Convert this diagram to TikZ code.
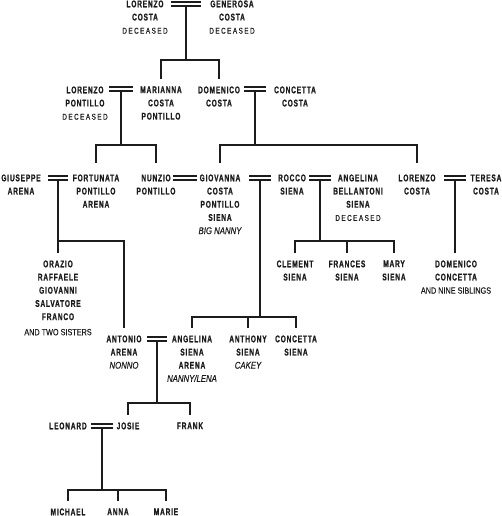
\documentclass[tikz,border=0pt]{standalone}
\usepackage{fontspec}
\usetikzlibrary{positioning}
\newfontfamily\namefont[FakeStretch=0.68,LetterSpace=8,FakeBold=0.8]{Liberation Sans}
\newfontfamily\notefont[FakeStretch=0.8,FakeBold=0.3]{Liberation Sans}
\newfontfamily\decfont[FakeStretch=0.75,LetterSpace=18,FakeBold=0.5]{Liberation Sans}
\definecolor{ink}{RGB}{28,28,28}
\newcommand{\dectxt}{{\decfont\mdseries\fontsize{6.3}{9.9}\selectfont DECEASED}}
\newcommand{\nicktxt}[1]{{\notefont\mdseries\itshape #1}}
\newcommand{\extratxt}[1]{{\notefont\mdseries\fontsize{6.8}{9.9}\selectfont #1}}

\begin{document}
\begin{tikzpicture}[
      x=0.75pt, y=-0.75pt,
      font=\namefont\bfseries\fontsize{7.3}{9.9}\selectfont,
      person/.style={anchor=north, align=center, inner sep=0pt, outer ysep=5.6pt, text=ink},
      low/.style={outer ysep=8.6pt},
      line/.style={draw=ink, line width=1.5pt},
      wed/.style={minimum width=16.5pt, minimum height=3.8pt, inner sep=0pt, outer sep=0pt,
                  path picture={
                    \fill[ink] (path picture bounding box.north west) rectangle ([yshift=-1.4pt]path picture bounding box.north east);
                    \fill[ink] ([yshift=1.4pt]path picture bounding box.south west) rectangle (path picture bounding box.south east);}},
    ]
    \useasboundingbox (0,0) rectangle (501,516);

    % generation 1
    \node[person] (lorenzoC) at (145,-7) {LORENZO\\COSTA\\\dectxt};
    \node[person] (generosa) at (232,-7) {GENEROSA\\COSTA\\\dectxt};
    \node[wed, minimum width=23pt] (w0) at (186,4) {};
    \coordinate (b0) at (186,60);

    % generation 2
    \node[person] (lorenzoP) at (85,79) {LORENZO\\PONTILLO\\\dectxt};
    \node[wed, minimum width=18pt] (w1) at (121,89) {};
    \node[person] (marianna) at (161,79) {MARIANNA\\COSTA\\PONTILLO};
    \node[person] (domenico) at (219,79) {DOMENICO\\COSTA};
    \node[wed] (w2) at (255,89) {};
    \node[person] (concetta) at (295,79) {CONCETTA\\COSTA};
    \coordinate (b1) at (121,145);
    \coordinate (b2) at (255,145);

    % generation 3
    \node[person, low] (giuseppe) at (21,163) {GIUSEPPE\\ARENA};
    \node[wed, minimum width=15pt] (w3) at (58,178) {};
    \node[person, low] (fortunata) at (96,163) {FORTUNATA\\PONTILLO\\ARENA};
    \node[person, low] (nunzio) at (156,163) {NUNZIO\\PONTILLO};
    \node[wed, minimum width=18pt] (w4) at (185,178) {};
    \node[person, low] (giovanna) at (220,163) {GIOVANNA\\COSTA\\PONTILLO\\SIENA\\\nicktxt{BIG NANNY}};
    \node[wed] (w5) at (260,178) {};
    \node[person, low] (rocco) at (292,163) {ROCCO\\SIENA};
    \node[wed] (w6) at (320,178) {};
    \node[person, low] (angelinaB) at (358,163) {ANGELINA\\BELLANTONI\\SIENA\\\dectxt};
    \node[person, low] (lorenzoT) at (417,163) {LORENZO\\COSTA};
    \node[wed] (w7) at (455,178) {};
    \node[person, low] (teresa) at (486,163) {TERESA\\COSTA};
    \coordinate (b3) at (58,241);
    \coordinate (b6) at (320,241);
    \coordinate (b5) at (260,317);

    % generation 4
    \node[person] (brothers) at (58,253) {ORAZIO\\RAFFAELE\\GIOVANNI\\SALVATORE\\FRANCO\\[1.5pt]\extratxt{AND TWO SISTERS}};
    \node[person] (clement) at (295,253) {CLEMENT\\SIENA};
    \node[person] (frances) at (347,253) {FRANCES\\SIENA};
    \node[person] (mary) at (394,253) {MARY\\SIENA};
    \node[person] (domenicoC) at (456,253) {DOMENICO\\CONCETTA\\\extratxt{AND NINE SIBLINGS}};

    \node[person] (antonio) at (124,328) {ANTONIO\\ARENA\\\nicktxt{NONNO}};
    \node[wed, minimum width=15pt] (w8) at (157,339) {};
    \node[person] (angelinaS) at (192,328) {ANGELINA\\SIENA\\ARENA\\\nicktxt{NANNY/LENA}};
    \node[person] (anthony) at (248,328) {ANTHONY\\SIENA\\\nicktxt{CAKEY}};
    \node[person] (concettaS) at (296,328) {CONCETTA\\SIENA};
    \coordinate (b8) at (157,403);

    % generation 5
    \node[person] (leonard) at (68,415) {LEONARD};
    \node[wed] (w9) at (102,426) {};
    \node[person] (josie) at (128,415) {JOSIE};
    \node[person] (frank) at (190,415) {FRANK};
    \coordinate (b9) at (102,490);

    % generation 6
    \node[person] (michael) at (68,501) {MICHAEL};
    \node[person] (anna) at (118,501) {ANNA};
    \node[person] (marie) at (166,501) {MARIE};

    % lines of descent
    \draw[line] (w0.south) -- (b0);
    \draw[line] (b0) -| (marianna.north);
    \draw[line] (b0) -| (domenico.north);
    \draw[line] (w1.south) -- (b1);
    \draw[line] (b1) -| (fortunata.north);
    \draw[line] (b1) -| (nunzio.north);
    \draw[line] (w2.south) -- (b2);
    \draw[line] (b2) -| (giovanna.north);
    \draw[line] (b2) -| (lorenzoT.north);
    \draw[line] (w3.south) -- (b3);
    \draw[line] (b3) -- (brothers.north);
    \draw[line] (b3) -| (antonio.north);
    \draw[line] (w6.south) -- (b6);
    \draw[line] (b6) -| (clement.north);
    \draw[line] (b6) -- (frances.north |- b6) -- (frances.north);
    \draw[line] (b6) -| (mary.north);
    \draw[line] (w7.south) -- (domenicoC.north -| w7);
    \draw[line] (w5.south) -- (b5);
    \draw[line] (b5) -| (angelinaS.north);
    \draw[line] (b5) -| (anthony.north);
    \draw[line] (b5) -| (concettaS.north);
    \draw[line] (w8.south) -- (b8);
    \draw[line] (b8) -| (josie.north);
    \draw[line] (b8) -| (frank.north);
    \draw[line] (w9.south) -- (b9);
    \draw[line] (b9) -| (michael.north);
    \draw[line] (b9) -| (anna.north);
    \draw[line] (b9) -| (marie.north);
  \end{tikzpicture}
\end{document}
